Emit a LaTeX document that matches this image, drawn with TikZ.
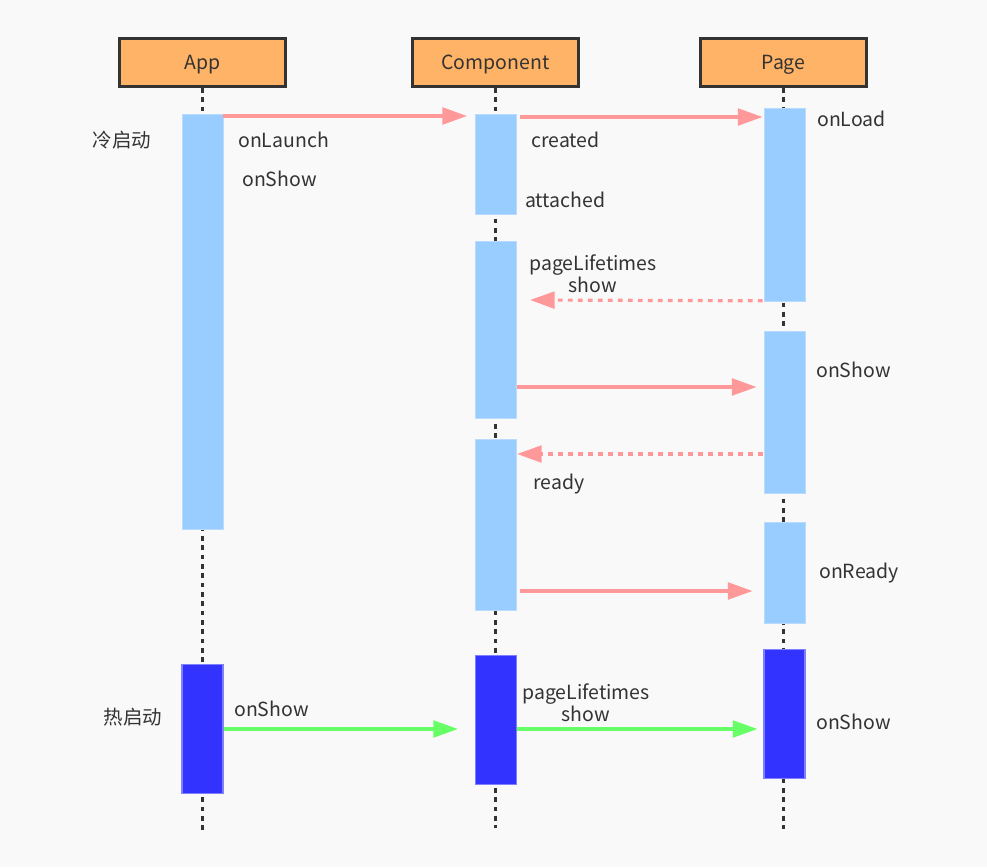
\documentclass[tikz,border=0pt]{standalone}
\usepackage{fontspec}
\setmainfont{Noto Sans CJK SC}
\usetikzlibrary{arrows.meta,calc}
\definecolor{bg}{HTML}{F9F9F9}
\definecolor{hdr}{HTML}{FFB366}
\definecolor{hdrline}{HTML}{333333}
\definecolor{lblue}{HTML}{99CCFF}
\definecolor{lblueline}{HTML}{B8DBFF}
\definecolor{dblue}{HTML}{3333FF}
\definecolor{dblueline}{HTML}{8080FF}
\definecolor{pink}{HTML}{FF9999}
\definecolor{grn}{HTML}{66FF66}
\definecolor{txt}{HTML}{333333}
\newcommand{\hdrtext}[1]{\raisebox{-5.6pt}[0pt][0pt]{#1}}
\tikzset{
  header/.style={draw=hdrline, line width=2.2pt, fill=hdr, minimum width=124.5pt, minimum height=36pt, inner sep=0pt, text=txt, font=\fontsize{14.6}{16}\selectfont},
  bar/.style={draw=lblueline, line width=0.6pt, fill=lblue, minimum width=30.75pt, anchor=north, inner sep=0pt},
  hotbar/.style={draw=dblueline, line width=0.8pt, fill=dblue, minimum width=30.75pt, anchor=north, inner sep=0pt},
  life/.style={draw=hdrline, line width=2.2pt, dash pattern=on 3.5pt off 3.5pt},
  msg/.style={draw=pink, line width=2.4pt, -{Triangle[length=18.5pt,width=12.5pt]}},
  rmsg/.style={draw=pink, line width=2.4pt, dash pattern=on 3.6pt off 3.9pt, -{Triangle[length=18.5pt,width=12.5pt]}},
  gmsg/.style={draw=grn, line width=2.4pt, -{Triangle[length=18.5pt,width=12.5pt]}},
  lbl/.style={text=txt, font=\fontsize{14.6}{16.5}\selectfont, inner sep=0pt},
}
\begin{document}
\begin{tikzpicture}[x=0.75pt,y=-0.75pt]
\fill[bg] (0,0) rectangle (987,867);
\useasboundingbox (0,0) rectangle (987,867);
% headers
\node[header] (app) at (202.5,62.5) {\hdrtext{App}};
\node[header] (comp) at (495.5,62.5) {\hdrtext{Component}};
\node[header] (page) at (783.5,62.5) {\hdrtext{Page}};
% lifeline ends
\coordinate (append) at (202.5,830);
\coordinate (compend) at (495.5,828);
\coordinate (pageend) at (783.5,829);
\draw[life] (app.south) -- (append);
\draw[life] (comp.south) -- (compend);
\draw[life] (page.south) -- (pageend);
% bars
\node[bar, minimum height=311.25pt] (a1) at (202.5,114) {};
\node[hotbar, minimum height=96.75pt] (ah) at (202.5,664) {};
\node[bar, minimum height=75pt] (c1) at (496,114) {};
\node[bar, minimum height=132.75pt] (c2) at (496,241) {};
\node[bar, minimum height=128.25pt] (c3) at (496,439) {};
\node[hotbar, minimum height=96.75pt] (ch) at (496,655) {};
\node[bar, minimum height=144.75pt] (p1) at (784.5,108) {};
\node[bar, minimum height=121.5pt] (p2) at (784.5,331) {};
\node[bar, minimum height=75.75pt] (p3) at (784.5,522) {};
\node[hotbar, minimum height=96.75pt] (ph) at (784.5,649) {};
% messages
\draw[msg] ($(a1.north east)+(0,2)$) -- ($(c1.north west)+(-8,2)$);
\draw[msg] ($(c1.north east)+(3,3)$) -- ($(p1.north west)+(-1,9)$);
\draw[rmsg] ($(p1.south west)+(-1,-1)$) -- ($(c2.north east)+(13,59)$);
\draw[msg] ($(c2.north east)+(0,146)$) -- ($(p2.north west)+(-7,56)$);
\draw[rmsg] ($(p2.north west)+(-1,123)$) -- ($(c3.north east)+(0,15)$);
\draw[msg] ($(c3.north east)+(3,152)$) -- ($(p3.north west)+(-11,69)$);
\draw[gmsg] ($(ah.north east)+(0,65)$) -- ($(ch.north west)+(-17,74)$);
\draw[gmsg] ($(ch.north east)+(0,74)$) -- ($(ph.north west)+(-6,80)$);
% labels
\node[lbl, anchor=center] (cold) at (122,140) {冷启动};
\node[lbl, anchor=west] (l1) at (238,140) {onLaunch};
\node[lbl, anchor=west] (l2) at (242,179) {onShow};
\node[lbl, anchor=west] (l3) at (531,140) {created};
\node[lbl, anchor=west] (l4) at (525,200) {attached};
\node[lbl, anchor=center, align=center] (l5) at (593,274) {pageLifetimes\\show};
\node[lbl, anchor=west] (l6) at (817,119) {onLoad};
\node[lbl, anchor=west] (l7) at (816,370) {onShow};
\node[lbl, anchor=west] (l8) at (533,484) {ready};
\node[lbl, anchor=west] (l9) at (819,573) {onReady};
\node[lbl, anchor=center] (hot) at (133,717) {热启动};
\node[lbl, anchor=west] (l10) at (234,709) {onShow};
\node[lbl, anchor=center, align=center] (l11) at (586,703) {pageLifetimes\\show};
\node[lbl, anchor=west] (l12) at (816,722) {onShow};
\end{tikzpicture}
\end{document}
